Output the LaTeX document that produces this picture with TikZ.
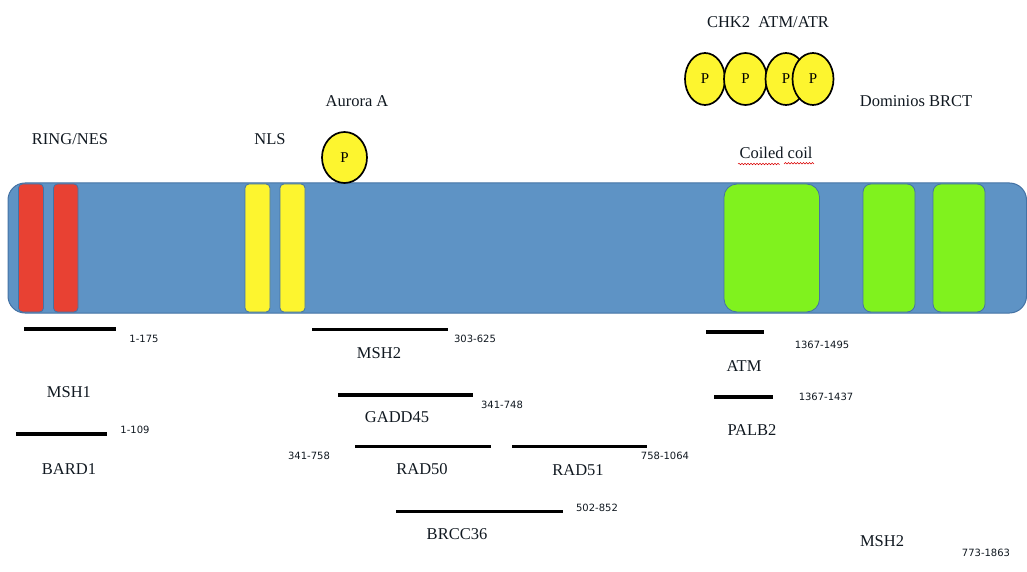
\documentclass[tikz,border=0pt]{standalone}
\usepackage{fontspec}
\setmainfont{Liberation Serif}
\newfontfamily\numfont{DejaVu Sans}
\usetikzlibrary{shapes.geometric,decorations.pathmorphing}

\definecolor{barblue}{HTML}{5E93C5}
\definecolor{baredge}{HTML}{4472A4}
\definecolor{ringred}{HTML}{E84133}
\definecolor{nlsyellow}{HTML}{FDF52F}
\definecolor{brctgreen}{HTML}{80F21E}
\definecolor{inktext}{HTML}{101820}

\tikzset{
  lbl/.style={font=\fontsize{16.5}{19}\selectfont, text=inktext, inner sep=0pt},
  rng/.style={font=\numfont\fontsize{10}{12}\selectfont, text=inktext, inner sep=0pt},
  dombox/.style={draw=baredge, line width=0.8pt, rounded corners=4pt},
  site/.style={line width=3.8pt, black},
  pball/.style={ellipse, draw=black, line width=1.7pt, fill=nlsyellow,
    minimum width=40pt, minimum height=52pt, inner sep=0pt,
    font=\fontsize{15}{17}\selectfont}
}

\begin{document}
\begin{tikzpicture}[x=1pt,y=-1pt]
\useasboundingbox (0,0) rectangle (1027,572);

% protein backbone
\path[fill=barblue, draw=baredge, line width=1pt, rounded corners=17pt]
  (8,183) rectangle (1026.5,313);

% RING domain
\path[dombox, fill=ringred] (18.5,184) rectangle (43.5,312);
\path[dombox, fill=ringred] (53.5,184) rectangle (78,312);
% NLS
\path[dombox, fill=nlsyellow] (245,184) rectangle (270,312);
\path[dombox, fill=nlsyellow] (280,184) rectangle (305,312);
% coiled coil and BRCT domains
\path[dombox, fill=brctgreen, rounded corners=13pt] (724,184) rectangle (819.5,312);
\path[dombox, fill=brctgreen, rounded corners=8pt] (863,184) rectangle (915,312);
\path[dombox, fill=brctgreen, rounded corners=8pt] (933,184) rectangle (985,312);

% phosphorylation sites
\node[pball, minimum width=45pt, minimum height=51pt] (pAur) at (344.5,157.5) {P};
\node[pball] (pChkA) at (705,79) {P};
\node[pball, minimum width=43pt] (pChkB) at (745.5,79) {P};
\node[pball, minimum width=41pt] (pAtmA) at (786,79) {P};
\node[pball, minimum width=41pt] (pAtmB) at (813,79) {P};

% domain and kinase labels
\node[lbl] (tRing) at (70,139) {RING/NES};
\node[lbl] (tNls) at (270,139) {NLS};
\node[lbl] (tAur) at (357,101) {Aurora A};
\node[lbl] (tKin) at (768,22) {CHK2\ \ ATM/ATR};
\node[lbl] (tBrct) at (916,101) {Dominios BRCT};
\node[lbl] (tCoil) at (776,153) {Coiled coil};
\draw[red!85!black, line width=0.5pt, decorate,
  decoration={snake, segment length=3pt, amplitude=0.8pt}]
  (738,164) -- (779,164) (784,164) -- (814,164);

% binding regions
\draw[site] (24,329) -- (116,329);
\node[rng] (r1) at (144,339) {1-175};
\node[lbl] (tMsh1) at (69,392) {MSH1};

\draw[site] (16,434) -- (107,434);
\node[rng] (r2) at (135,430) {1-109};
\node[lbl] (tBard) at (69,469) {BARD1};

\draw[site] (312,329.5) -- (448,329.5);
\node[rng] (r3) at (475,339) {303-625};
\node[lbl] (tMsh2a) at (379,353) {MSH2};

\draw[site] (338,395) -- (473,395);
\node[rng] (r4) at (502,405) {341-748};
\node[lbl] (tGadd) at (397,417) {GADD45};

\draw[site] (355,446.5) -- (491,446.5);
\node[rng] (r5) at (309,456) {341-758};
\node[lbl] (tRad50) at (422,469) {RAD50};

\draw[site] (512,446.5) -- (647,446.5);
\node[rng] (r6) at (665,456) {758-1064};
\node[lbl] (tRad51) at (578,470) {RAD51};

\draw[site] (396,511.5) -- (563,511.5);
\node[rng] (r7) at (597,508) {502-852};
\node[lbl] (tBrcc) at (457,534) {BRCC36};

\draw[site] (706,332) -- (764,332);
\node[rng] (r8) at (822,345) {1367-1495};
\node[lbl] (tAtm) at (744,366) {ATM};

\draw[site] (714,397) -- (773,397);
\node[rng] (r9) at (826,397) {1367-1437};
\node[lbl] (tPalb) at (752,430) {PALB2};

\node[lbl] (tMsh2b) at (882,541) {MSH2};
\node[rng] (r10) at (986,553) {773-1863};
\end{tikzpicture}
\end{document}
